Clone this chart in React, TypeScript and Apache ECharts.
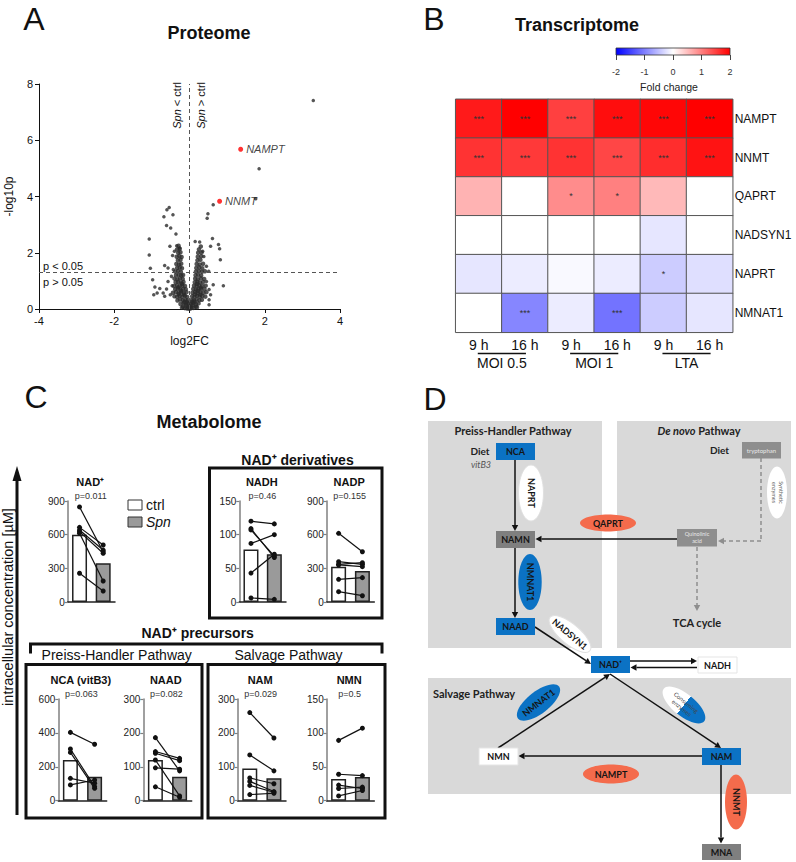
import React, { useEffect, useRef } from 'react';
import * as echarts from 'echarts';

const SANS = '"Liberation Sans", Arial, sans-serif';
const DIAG = 'Lato, "Open Sans", sans-serif';

// ---------------- Panel A: Proteome volcano ----------------
const volcanoCloud: number[][] = [
  [-0.12, 0.03], [-0.06, 0.02], [0.0, 0.01], [0.05, 0.03], [0.11, 0.04], [-0.03, 0.08], [0.03, 0.09], [-0.17, 0.08], [0.17, 0.09], [-0.08, 0.12], [0.08, 0.13], [-0.2, 0.05], [0.2, 0.06], [0.0, 0.05],
  [-0.24, 0.18], [-0.16, 0.2], [-0.09, 0.17], [-0.03, 0.2], [0.04, 0.18], [0.1, 0.21], [0.17, 0.17], [0.24, 0.2], [-0.14, 0.25], [0.14, 0.26], [-0.07, 0.25], [0.07, 0.26],
  [-0.32, 0.3], [-0.25, 0.34], [-0.18, 0.31], [-0.11, 0.33], [-0.05, 0.3], [0.06, 0.32], [0.12, 0.3], [0.19, 0.34], [0.26, 0.31], [0.33, 0.33],
  [-0.4, 0.45], [-0.33, 0.43], [-0.26, 0.46], [-0.19, 0.44], [-0.12, 0.47], [-0.06, 0.43], [0.07, 0.45], [0.13, 0.43], [0.2, 0.47], [0.27, 0.44], [0.34, 0.46], [0.42, 0.44],
  [-0.29, 0.52], [-0.15, 0.51], [0.15, 0.52], [0.29, 0.51], [-0.22, 0.64], [0.22, 0.65], [-0.3, 0.77], [0.3, 0.76], [-0.2, 0.9], [0.2, 0.89],
  [-0.44, 0.58], [-0.36, 0.6], [-0.29, 0.57], [-0.22, 0.59], [-0.15, 0.57], [-0.08, 0.6], [0.08, 0.58], [0.15, 0.6], [0.22, 0.57], [0.29, 0.59], [0.37, 0.58], [0.45, 0.6],
  [-0.38, 0.7], [-0.31, 0.72], [-0.24, 0.69], [-0.17, 0.71], [-0.1, 0.7], [0.1, 0.71], [0.17, 0.69], [0.24, 0.72], [0.31, 0.7], [0.4, 0.71],
  [-0.41, 0.82], [-0.33, 0.84], [-0.26, 0.81], [-0.19, 0.83], [-0.12, 0.82], [0.12, 0.83], [0.19, 0.81], [0.26, 0.84], [0.34, 0.82], [0.43, 0.83],
  [-0.37, 0.95], [-0.3, 0.97], [-0.23, 0.94], [-0.16, 0.96], [0.14, 0.95], [0.21, 0.97], [0.28, 0.94], [0.36, 0.96],
  [-0.4, 1.08], [-0.32, 1.06], [-0.25, 1.09], [-0.18, 1.07], [0.15, 1.08], [0.22, 1.06], [0.3, 1.09], [0.39, 1.07],
  [-0.36, 1.2], [-0.29, 1.22], [-0.22, 1.19], [-0.17, 1.21], [0.16, 1.2], [0.23, 1.22], [0.31, 1.19],
  [-0.38, 1.33], [-0.3, 1.35], [-0.23, 1.32], [0.17, 1.33], [0.25, 1.35], [0.33, 1.32], [0.41, 1.34],
  [-0.33, 1.46], [-0.26, 1.48], [-0.2, 1.45], [0.18, 1.46], [0.26, 1.48], [0.34, 1.45],
  [-0.35, 1.6], [-0.28, 1.58], [-0.22, 1.61], [0.19, 1.6], [0.27, 1.58], [0.36, 1.61],
  [-0.31, 1.73], [-0.24, 1.75], [0.21, 1.73], [0.29, 1.75],
  [-0.34, 1.86], [-0.27, 1.88], [-0.21, 1.85], [0.22, 1.86], [0.31, 1.88],
  [-0.3, 2.0], [-0.24, 2.02], [0.23, 2.0], [0.32, 2.01],
  [-0.33, 2.12], [-0.26, 2.14], [0.25, 2.12],
  [-0.29, 2.25], [0.3, 2.22],
];
const volcanoOutliers: number[][] = [
  [3.29, 7.41], [1.85, 4.99], [1.76, 3.92], [0.63, 3.71], [0.49, 3.39], [0.47, 3.23], [0.61, 2.51], [0.77, 2.29], [0.8, 2.14],
  [0.56, 2.23], [0.27, 2.38], [0.82, 1.75], [0.9, 0.83], [0.45, 1.52], [0.56, 0.51], [0.52, 0.69], [0.63, 0.86], [0.51, 1.34],
  [0.45, 0.98], [0.38, 1.87], [0.52, 0.33], [0.52, 0.15], [0.35, 2.05], [0.15, 2.4],
  [-0.54, 3.61], [-0.6, 3.53], [-0.44, 3.35], [-0.68, 3.28], [-0.61, 2.97], [-0.5, 2.88], [-0.36, 2.67], [-1.07, 2.49], [-1.07, 1.92],
  [-1.04, 1.45], [-0.98, 1.04], [-0.66, 1.55], [-0.52, 2.23], [-0.92, 0.78], [-0.86, 0.57], [-0.79, 0.73], [-0.7, 0.57], [-0.95, 0.51],
  [-0.61, 0.71], [-0.66, 0.45], [-0.51, 0.51], [-0.46, 0.83], [-0.57, 0.98], [-0.48, 1.16], [-0.43, 1.4], [-0.57, 1.46], [-0.34, 2.25],
  [-0.26, 2.17], [-0.45, 1.9], [-0.4, 2.05],
];
const volcanoHits = [
  { name: 'NAMPT', value: [1.36, 5.68] },
  { name: 'NNMT', value: [0.8, 3.83] },
];
const volcanoXRange = [-4, 4, 2];
const volcanoYRange = [0, 8, 2];
const pCutoff = 1.3;

// ---------------- Panel B: Transcriptome heatmap ----------------
const hmGenes = ['NAMPT', 'NNMT', 'QAPRT', 'NADSYN1', 'NAPRT', 'NMNAT1'];
const hmTimes = ['9 h', '16 h', '9 h', '16 h', '9 h', '16 h'];
const hmGroups = ['MOI 0.5', 'MOI 1', 'LTA'];
const fcNAMPT = [1.8, 2.0, 1.5, 1.9, 1.95, 2.0];
const fcNNMT = [1.6, 1.55, 1.6, 1.45, 1.65, 1.85];
const fcQAPRT = [0.6, 0, 0.9, 1.0, 0.55, 0];
const fcNADSYN1 = [0, 0, 0, 0, -0.2, 0];
const fcNAPRT = [-0.2, -0.15, -0.05, -0.15, -0.4, -0.25];
const fcNMNAT1 = [0, -0.95, -0.15, -1.1, -0.4, -0.2];
const sigNAMPT = ['***', '***', '***', '***', '***', '***'];
const sigNNMT = ['***', '***', '***', '***', '***', '***'];
const sigQAPRT = ['', '', '*', '*', '', ''];
const sigNADSYN1 = ['', '', '', '', '', ''];
const sigNAPRT = ['', '', '', '', '*', ''];
const sigNMNAT1 = ['', '***', '', '***', '', ''];
const colorbarTicks = [-2, 2, 1];

// ---------------- Panel C: Metabolome ----------------
const metNames = ['NAD⁺', 'NADH', 'NADP', 'NCA (vitB3)', 'NAAD', 'NAM', 'NMN'];
const metP = ['p=0.011', 'p=0.46', 'p=0.155', 'p=0.063', 'p=0.082', 'p=0.029', 'p=0.5'];
const metMax = [900, 150, 900, 600, 300, 300, 150];
const metInterval = [300, 50, 300, 200, 100, 100, 50];
const nadCtrl = [847, 665, 641, 627, 612, 256];
const nadSpn = [448, 508, 463, 434, 187, 98];
const nadhCtrl = [120, 109, 107, 87, 43, 6];
const nadhSpn = [116, 66, 68, 100, 71, 4];
const nadpCtrl = [612, 359, 336, 330, 202, 92];
const nadpSpn = [448, 336, 350, 315, 217, 56];
const ncaCtrl = [403, 305, 285, 132, 93];
const ncaSpn = [333, 83, 73, 103, 122];
const naadCtrl = [186, 145, 140, 120, 97, 41];
const naadSpn = [88, 125, 118, 14, 93, 10];
const namCtrl = [260, 135, 67, 57, 45, 18];
const namSpn = [185, 88, 50, 27, 25, 22];
const nmnCtrl = [89, 39, 23, 18, 7];
const nmnSpn = [107, 37, 18, 20, 15];
const barCtrl = [600, 78, 315, 240, 120, 95, 32];
const barSpn = [345, 71, 276, 142, 71, 66, 35];
const legendLabels = ['ctrl', 'Spn'];

// layout (not data)
const GA = { left: 39, top: 84, width: 301, height: 225 };
const GB = { left: 455.7, top: 99.3, width: 277, height: 233 };
const GBAR = { left: 616, top: 48, width: 114, height: 7 };
const GC = [
  { left: 67.7, top: 501, width: 47.3, height: 101 },
  { left: 239.3, top: 501, width: 46.7, height: 101 },
  { left: 326.7, top: 501, width: 47.6, height: 101 },
  { left: 58.3, top: 699, width: 48.4, height: 101.7 },
  { left: 143.3, top: 699, width: 48.4, height: 101.7 },
  { left: 237.7, top: 699, width: 48.3, height: 101.7 },
  { left: 326.7, top: 699, width: 47.6, height: 101.7 },
];

const BLUE = '#0b72c4';
const CORAL = '#f46b4c';
const DGRAY = '#7f7f7f';
const LGRAY = '#8e8e8e';
const BG = '#d9d9d9';

function txt(text: string, x: number, y: number, o: any = {}) {
  const align = o.align || 'center';
  const va = o.va || 'middle';
  return {
    type: 'text', x, y, rotation: o.rotation || 0, silent: true, z: o.z || 20,
    style: {
      text, fill: o.fill || '#111', fontSize: o.size || 12, fontFamily: o.family || SANS,
      fontWeight: o.weight || 'normal', fontStyle: o.italic ? 'italic' : 'normal',
      align, verticalAlign: va, textAlign: align, textVerticalAlign: va,
      rich: o.rich, lineHeight: o.lh,
    },
  };
}

function arrow(x1: number, y1: number, x2: number, y2: number, color = '#111', dashed = false, width = 1.5) {
  const a = Math.atan2(y2 - y1, x2 - x1);
  const L = 6, W = 3.2;
  const c = Math.cos(a), s = Math.sin(a);
  const bx = x2 - L * c, by = y2 - L * s;
  return [
    { type: 'line', silent: true, z: 5, shape: { x1, y1, x2: bx, y2: by }, style: { stroke: color, lineWidth: width, lineDash: dashed ? [4, 3] : null } },
    { type: 'polygon', silent: true, z: 5, shape: { points: [[x2, y2], [bx + W * s, by - W * c], [bx - W * s, by + W * c]] }, style: { fill: color } },
  ];
}

function box(x: number, y: number, w: number, h: number, fill: string, text: string, o: any = {}) {
  return [
    { type: 'rect', silent: true, z: 6, shape: { x, y, width: w, height: h }, style: { fill, stroke: o.stroke || null, lineWidth: 1 } },
    txt(text, x + w / 2, y + h / 2, { size: o.size || 9, weight: o.weight || 'bold', fill: o.fill || '#151515', family: DIAG, lh: o.lh, z: 7 }),
  ];
}

function ell(cx: number, cy: number, rx: number, ry: number, fill: any, text: string, rot: number, o: any = {}) {
  return {
    type: 'group', x: cx, y: cy, rotation: rot, z: 8, silent: true,
    children: [
      { type: 'ellipse', z: 8, shape: { cx: 0, cy: 0, rx, ry }, style: { fill, stroke: o.stroke || null } },
      txt(text, 0, 0, { size: o.size || 9, weight: o.weight || 'bold', fill: o.fill || '#151515', family: DIAG, lh: o.lh, z: 9 }),
    ],
  };
}

function buildOption() {
  const grids: any[] = [GA, GB, GBAR, ...GC];
  const xAxes: any[] = [];
  const yAxes: any[] = [];
  const series: any[] = [];

  // ---- A
  xAxes.push({
    gridIndex: 0, type: 'value', min: volcanoXRange[0], max: volcanoXRange[1], interval: volcanoXRange[2],
    name: 'log2FC', nameLocation: 'middle', nameGap: 26, nameTextStyle: { fontSize: 12, color: '#111', fontFamily: SANS },
    axisLine: { onZero: false, lineStyle: { color: '#111', width: 1 } }, axisTick: { length: 4, lineStyle: { color: '#111' } },
    axisLabel: { fontSize: 11, color: '#111', margin: 6, fontFamily: SANS }, splitLine: { show: false },
  });
  yAxes.push({
    gridIndex: 0, type: 'value', min: volcanoYRange[0], max: volcanoYRange[1], interval: volcanoYRange[2],
    name: '-log10p', nameLocation: 'middle', nameGap: 24, nameTextStyle: { fontSize: 12, color: '#111', fontFamily: SANS },
    axisLine: { show: true, onZero: false, lineStyle: { color: '#111', width: 1 } }, axisTick: { show: true, length: 4, lineStyle: { color: '#111' } },
    axisLabel: { fontSize: 11, color: '#111', margin: 6, fontFamily: SANS }, splitLine: { show: false },
  });
  series.push({
    type: 'scatter', xAxisIndex: 0, yAxisIndex: 0, data: volcanoCloud, symbolSize: 4.5, itemStyle: { color: '#2a2a2a' }, silent: true,
    markLine: {
      silent: true, symbol: ['none', 'none'], label: { show: false },
      lineStyle: { type: [4, 3], color: '#555', width: 1 },
      data: [{ xAxis: 0 }, { yAxis: pCutoff }],
    },
  });
  series.push({ type: 'scatter', xAxisIndex: 0, yAxisIndex: 0, data: volcanoOutliers, symbolSize: 3.5, itemStyle: { color: '#2a2a2a' }, silent: true });
  series.push({
    type: 'scatter', xAxisIndex: 0, yAxisIndex: 0, data: volcanoHits, symbolSize: 5, itemStyle: { color: '#ff0000' }, silent: true, z: 4,
    label: { show: true, position: 'right', distance: 3, formatter: (p: any) => p.name, fontStyle: 'italic', fontSize: 11, color: '#111', fontFamily: SANS },
  });

  // ---- B heatmap
  xAxes.push({
    gridIndex: 1, type: 'category', data: hmTimes.map((_, i) => 'c' + i),
    axisLabel: { formatter: (_v: any, i: number) => hmTimes[i], fontSize: 14, margin: 6, color: '#111', fontFamily: SANS },
    axisLine: { show: false }, axisTick: { show: false }, splitLine: { show: false },
  });
  yAxes.push({
    gridIndex: 1, type: 'category', data: hmGenes, inverse: true, position: 'right',
    axisLabel: { fontSize: 12, margin: 2, color: '#111', fontFamily: SANS },
    axisLine: { show: false }, axisTick: { show: false }, splitLine: { show: false },
  });
  const hmRows = [fcNAMPT, fcNNMT, fcQAPRT, fcNADSYN1, fcNAPRT, fcNMNAT1];
  const sigRows = [sigNAMPT, sigNNMT, sigQAPRT, sigNADSYN1, sigNAPRT, sigNMNAT1];
  const hmData: any[] = [];
  hmRows.forEach((row, r) => row.forEach((v, c) => hmData.push({ value: [c, r, v], stars: sigRows[r][c] })));
  const hmSeriesIndex = series.length;
  series.push({
    type: 'heatmap', xAxisIndex: 1, yAxisIndex: 1, data: hmData, silent: true,
    itemStyle: { borderColor: '#555', borderWidth: 1 },
    label: { show: true, formatter: (p: any) => p.data.stars, fontSize: 9, color: '#333', fontFamily: SANS },
    emphasis: { disabled: true },
  });

  // ---- B colourbar axis
  xAxes.push({
    gridIndex: 2, type: 'value', min: colorbarTicks[0], max: colorbarTicks[1], interval: colorbarTicks[2],
    axisLine: { show: false }, axisTick: { show: true, length: 5, lineStyle: { color: '#444' } },
    axisLabel: { fontSize: 9, color: '#333', margin: 12, fontFamily: SANS }, splitLine: { show: false },
  });
  yAxes.push({ gridIndex: 2, type: 'value', min: 0, max: 1, show: false });
  series.push({ type: 'scatter', xAxisIndex: 2, yAxisIndex: 2, data: [], silent: true });

  // ---- C mini charts
  const ctrlSets = [nadCtrl, nadhCtrl, nadpCtrl, ncaCtrl, naadCtrl, namCtrl, nmnCtrl];
  const spnSets = [nadSpn, nadhSpn, nadpSpn, ncaSpn, naadSpn, namSpn, nmnSpn];
  metNames.forEach((_, k) => {
    const gi = 3 + k;
    xAxes.push({
      gridIndex: gi, type: 'category', data: legendLabels,
      axisLabel: { show: false }, axisTick: { show: false },
      axisLine: { onZero: false, lineStyle: { color: '#222', width: 1.5 } },
    });
    yAxes.push({
      gridIndex: gi, type: 'value', min: 0, max: metMax[k], interval: metInterval[k],
      axisLine: { show: true, onZero: false, lineStyle: { color: '#808080', width: 1.5 } },
      axisTick: { show: true, length: 3, lineStyle: { color: '#808080', width: 1.2 } },
      axisLabel: { fontSize: 10, margin: 3, color: '#222', fontFamily: SANS }, splitLine: { show: false },
    });
    series.push({
      type: 'bar', xAxisIndex: gi, yAxisIndex: gi, barWidth: 15, silent: true, z: 2,
      data: [
        { value: barCtrl[k], itemStyle: { color: '#ffffff', borderColor: '#222', borderWidth: 1.5 } },
        { value: barSpn[k], itemStyle: { color: '#9a9a9a', borderColor: '#222', borderWidth: 1.5 } },
      ],
    });
    ctrlSets[k].forEach((c, j) => {
      series.push({
        type: 'line', xAxisIndex: gi, yAxisIndex: gi, silent: true, z: 5,
        data: [[0, c], [1, spnSets[k][j]]], symbol: 'circle', symbolSize: 5,
        itemStyle: { color: '#111' }, lineStyle: { color: '#111', width: 1.2 },
      });
    });
  });

  // ---- graphics
  const g: any[] = [];
  g.push(txt('A', 34, 19, { size: 32 }));
  g.push(txt('B', 434, 19, { size: 32 }));
  g.push(txt('C', 36, 397, { size: 32 }));
  g.push(txt('D', 435, 399, { size: 32 }));
  g.push(txt('Proteome', 209, 33, { size: 18, weight: 'bold' }));
  g.push(txt('Transcriptome', 577, 25, { size: 18, weight: 'bold' }));
  g.push(txt('Metabolome', 209, 422, { size: 18, weight: 'bold' }));

  // A annotations
  g.push(txt('p < 0.05', 43, 266, { size: 11, align: 'left' }));
  g.push(txt('p > 0.05', 43, 282, { size: 11, align: 'left' }));
  const richI = { i: { fontStyle: 'italic', fontSize: 11, fontFamily: SANS, fill: '#111' }, n: { fontSize: 11, fontFamily: SANS, fill: '#111' } };
  g.push(txt('{i|Spn}{n| < ctrl}', 177, 82, { size: 11, align: 'right', rotation: Math.PI / 2, rich: richI }));
  g.push(txt('{i|Spn}{n| > ctrl}', 201, 82, { size: 11, align: 'right', rotation: Math.PI / 2, rich: richI }));

  // B colourbar + group labels
  g.push({
    type: 'rect', silent: true, z: 3, shape: { x: GBAR.left, y: GBAR.top, width: GBAR.width, height: GBAR.height },
    style: {
      fill: new echarts.graphic.LinearGradient(0, 0, 1, 0, [
        { offset: 0, color: '#0000ff' }, { offset: 0.5, color: '#ffffff' }, { offset: 1, color: '#ff0000' },
      ]),
      stroke: '#333', lineWidth: 0.8,
    },
  });
  g.push(txt('Fold change', GBAR.left + GBAR.width / 2 - 4, 87, { size: 10.5, fill: '#222' }));
  const cw = GB.width / hmTimes.length;
  hmGroups.forEach((name, i) => {
    const c1 = GB.left + (2 * i + 0.5) * cw;
    const c2 = GB.left + (2 * i + 1.5) * cw;
    g.push({ type: 'line', silent: true, shape: { x1: c1 - 1, y1: 353.5, x2: c2 + 1, y2: 353.5 }, style: { stroke: '#111', lineWidth: 1.5 } });
    g.push(txt(name, (c1 + c2) / 2, 363, { size: 14 }));
  });

  // C decorations
  g.push({ type: 'line', silent: true, shape: { x1: 17, y1: 815, x2: 17, y2: 478 }, style: { stroke: '#111', lineWidth: 3 } });
  g.push({ type: 'polygon', silent: true, shape: { points: [[17, 466], [12.5, 481], [21.5, 481]] }, style: { fill: '#111' } });
  g.push(txt('intracellular concentration [µM]', 7.5, 607, { size: 14.5, rotation: Math.PI / 2 }));
  g.push({ type: 'rect', silent: true, shape: { x: 128, y: 500, width: 14, height: 10 }, style: { fill: '#fff', stroke: '#333', lineWidth: 1 } });
  g.push({ type: 'rect', silent: true, shape: { x: 128, y: 517, width: 14, height: 10 }, style: { fill: '#9a9a9a', stroke: '#333', lineWidth: 1 } });
  g.push(txt(legendLabels[0], 146, 505, { size: 14, align: 'left' }));
  g.push(txt(legendLabels[1], 146, 522, { size: 14, align: 'left', italic: true }));
  GC.forEach((gr, k) => {
    g.push(txt(metNames[k], gr.left + 22.5, gr.top - 19.5, { size: 11, weight: 'bold' }));
    g.push(txt(metP[k], gr.left + 23, gr.top - 5.5, { size: 9, fill: '#333' }));
  });
  g.push({ type: 'rect', silent: true, shape: { x: 209.5, y: 468, width: 172.5, height: 150 }, style: { fill: null, stroke: '#111', lineWidth: 3 } });
  g.push(txt('NAD⁺ derivatives', 297.5, 459.5, { size: 14, weight: 'bold' }));
  g.push(txt('NAD⁺ precursors', 197.7, 633, { size: 14, weight: 'bold' }));
  g.push({ type: 'polyline', silent: true, shape: { points: [[30.5, 653.5], [30.5, 644], [382, 644], [382, 653.5]] }, style: { fill: null, stroke: '#111', lineWidth: 3 } });
  g.push(txt('Preiss-Handler Pathway', 116.7, 654.5, { size: 14 }));
  g.push(txt('Salvage Pathway', 288.5, 654.5, { size: 14 }));
  g.push({ type: 'rect', silent: true, shape: { x: 26, y: 664.5, width: 176, height: 153.5 }, style: { fill: null, stroke: '#111', lineWidth: 3 } });
  g.push({ type: 'rect', silent: true, shape: { x: 208, y: 664.5, width: 177, height: 153.5 }, style: { fill: null, stroke: '#111', lineWidth: 3 } });

  // D diagram
  g.push({ type: 'rect', silent: true, z: 1, shape: { x: 428, y: 421, width: 174, height: 227 }, style: { fill: BG } });
  g.push({ type: 'rect', silent: true, z: 1, shape: { x: 617, y: 421, width: 174, height: 227 }, style: { fill: BG } });
  g.push({ type: 'rect', silent: true, z: 1, shape: { x: 428, y: 678, width: 363, height: 116 }, style: { fill: BG } });
  g.push(txt('Preiss-Handler Pathway', 513, 430.5, { size: 11, weight: 'bold', family: DIAG, fill: '#222' }));
  g.push(txt('{i|De novo}{b| Pathway}', 699, 430.5, {
    size: 11, weight: 'bold', family: DIAG, fill: '#222',
    rich: { i: { fontStyle: 'italic', fontWeight: 'bold', fontSize: 11, fontFamily: DIAG, fill: '#222' }, b: { fontWeight: 'bold', fontSize: 11, fontFamily: DIAG, fill: '#222' } },
  }));
  g.push(txt('Diet', 480, 450.5, { size: 10, weight: 'bold', family: DIAG, fill: '#222' }));
  g.push(txt('vitB3', 481, 464.5, { size: 9, italic: true, family: DIAG, fill: '#555' }));
  g.push(txt('Diet', 719.5, 449.5, { size: 10, weight: 'bold', family: DIAG, fill: '#222' }));
  g.push(txt('TCA cycle', 697, 622, { size: 11, weight: 'bold', family: DIAG, fill: '#222' }));
  g.push(txt('Salvage Pathway', 433, 693, { size: 11, weight: 'bold', family: DIAG, fill: '#222', align: 'left' }));

  g.push(...arrow(515, 460, 515, 531));
  g.push(...arrow(677, 539, 535.5, 539));
  g.push(...arrow(515, 548, 515, 618));
  g.push(...arrow(535, 627, 591, 664));
  g.push(...arrow(630, 661, 697, 661));
  g.push(...arrow(697, 667.5, 630.5, 667.5));
  g.push(...arrow(498, 748, 610, 674));
  g.push(...arrow(610, 674, 721, 748));
  g.push(...arrow(702, 756, 518.5, 756));
  g.push(...arrow(721, 765, 721, 843.5));
  g.push({ type: 'line', silent: true, z: 5, shape: { x1: 761, y1: 458, x2: 761, y2: 541 }, style: { stroke: LGRAY, lineWidth: 1.5, lineDash: [4, 3] } });
  g.push(...arrow(761, 541, 718, 541, LGRAY, true));
  g.push(...arrow(697, 547, 697, 611, LGRAY, true));

  g.push(...box(496, 443, 39, 17, BLUE, 'NCA'));
  g.push(...box(496, 531, 39, 17, DGRAY, 'NAMN'));
  g.push(...box(496, 618, 39, 17, BLUE, 'NAAD'));
  g.push(...box(742, 442, 39, 16.5, LGRAY, 'tryptophan', { size: 6, weight: 'normal', fill: '#e8e8e8' }));
  g.push(...box(677, 529, 40, 17.5, LGRAY, 'Quinolinic\nacid', { size: 5.5, weight: 'normal', fill: '#e8e8e8', lh: 7 }));
  g.push(...box(591, 656, 39, 17, BLUE, 'NAD⁺'));
  g.push(...box(698, 657, 39, 16, '#ffffff', 'NADH', { stroke: '#e5e5e5' }));
  g.push(...box(479, 748, 39, 17, '#ffffff', 'NMN', { stroke: '#e5e5e5' }));
  g.push(...box(702, 748, 39, 17, BLUE, 'NAM'));
  g.push(...box(702, 844, 39, 16, DGRAY, 'MNA'));

  g.push(ell(531, 493, 28, 12.5, '#ffffff', 'NAPRT', -Math.PI / 2, { stroke: '#e0e0e0' }));
  g.push(ell(608, 523, 28, 8.5, CORAL, 'QAPRT', 0));
  g.push(ell(777, 492.5, 26, 10, '#ffffff', 'Synthetic\nenzymes', -Math.PI / 2, { size: 5.5, weight: 'normal', fill: '#666', lh: 7 }));
  g.push(ell(530, 582, 28, 11.7, BLUE, 'NMNAT1', -Math.PI / 2));
  g.push(ell(570, 634, 26, 10, '#ffffff', 'NADSYN1', -0.7, { stroke: '#e0e0e0' }));
  g.push(ell(538.5, 702.5, 26, 11, BLUE, 'NMNAT1', 0.66));
  g.push(ell(684, 705, 26, 11, new echarts.graphic.LinearGradient(0, 0, 1, 0, [
    { offset: 0, color: '#ffffff' }, { offset: 0.5, color: '#ffffff' }, { offset: 0.5, color: BLUE }, { offset: 1, color: BLUE },
  ]), 'Consuming\nenzymes', -0.68, { size: 6, weight: 'normal', fill: '#444', lh: 7 }));
  g.push(ell(611, 774, 28, 9.5, CORAL, 'NAMPT', 0));
  g.push(ell(736, 802, 27.5, 11, CORAL, 'NNMT', -Math.PI / 2));

  return {
    animation: false,
    backgroundColor: '#ffffff',
    textStyle: { fontFamily: SANS },
    grid: grids.map((gr) => ({ left: gr.left, top: gr.top, width: gr.width, height: gr.height, containLabel: false })),
    xAxis: xAxes,
    yAxis: yAxes,
    visualMap: [{
      type: 'continuous', show: false, min: -2, max: 2, dimension: 2, seriesIndex: hmSeriesIndex,
      inRange: { color: ['#0000ff', '#ffffff', '#ff0000'] },
    }],
    series,
    graphic: { elements: g },
  };
}

export default function App() {
  const ref = useRef<HTMLDivElement>(null);
  useEffect(() => {
    if (!ref.current) return;
    const chart = echarts.init(ref.current, undefined, { renderer: 'svg' });
    chart.setOption(buildOption() as any);
    return () => chart.dispose();
  }, []);
  return (
    <div
      ref={ref}
      style={{ position: 'absolute', left: 0, top: 0, width: 796, height: 862, background: '#fff' }}
    />
  );
}
